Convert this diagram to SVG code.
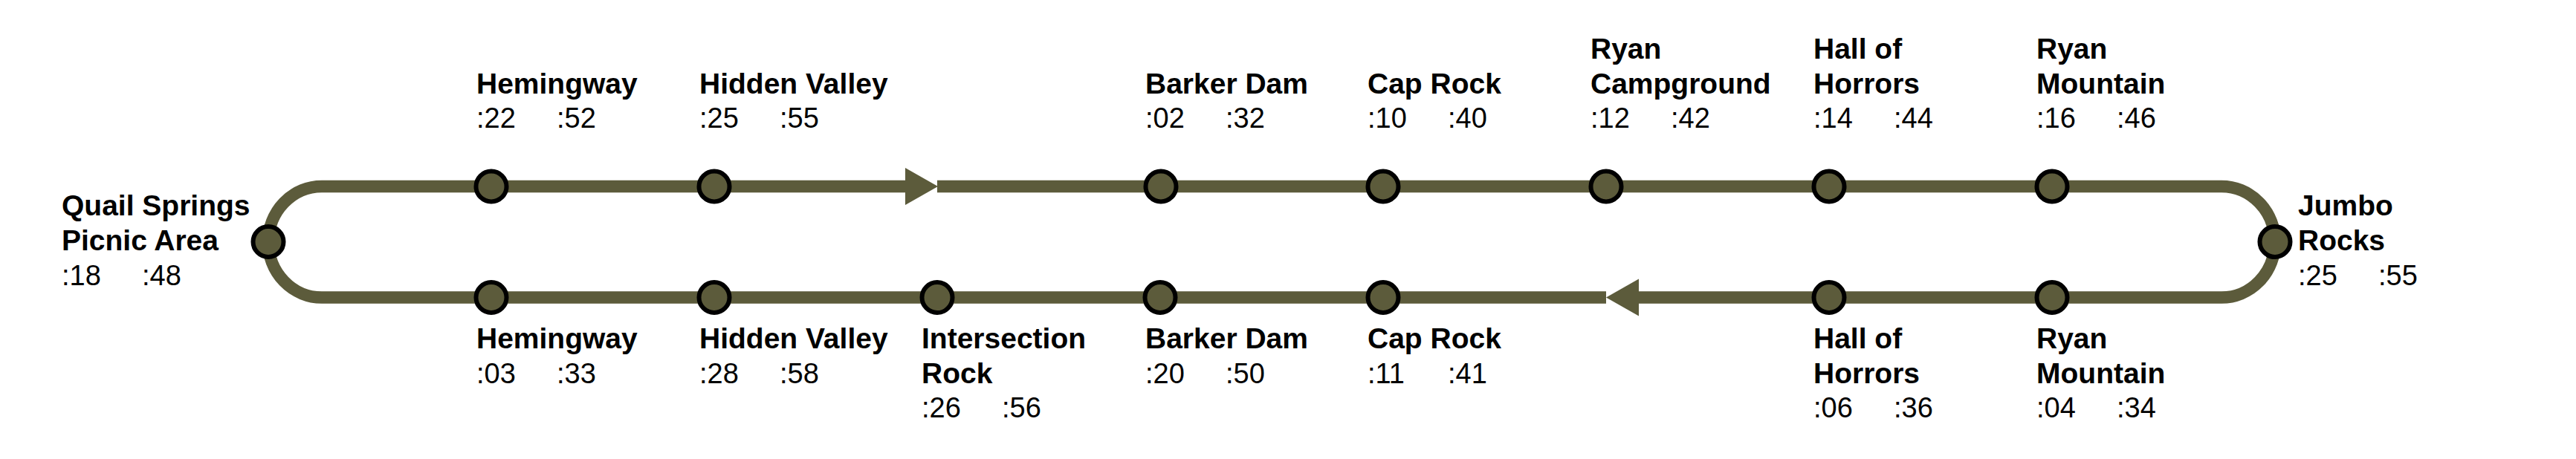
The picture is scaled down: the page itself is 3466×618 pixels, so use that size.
<svg xmlns="http://www.w3.org/2000/svg" width="3466" height="618" viewBox="0 0 3466 618">
<style>
.line{fill:none;stroke:#5c5b3b;stroke-width:16.5}
.arrow{fill:#5c5b3b}
.stop{fill:#5c5b3b;stroke:#000;stroke-width:6}
.name{font-family:"Liberation Sans",Arial,sans-serif;font-weight:bold;font-size:39px;fill:#000}
.time{font-family:"Liberation Sans",Arial,sans-serif;font-size:38px;fill:#000}
</style>
<rect width="3466" height="618" fill="#fff"/>
<g id="connectors">
<path class="line" d="M1220 251 H433 A72 74.75 0 0 0 433 400.5 H2161"/>
<path class="line" d="M1261 251 H2989 A72 74.75 0 0 1 2989 400.5 H2203"/>
<polygon class="arrow" points="1218,226 1262,251 1218,276"/>
<polygon class="arrow" points="2205,375.5 2161,400.5 2205,425.5"/>
</g>
<g id="quail-springs">
<circle class="stop" cx="361" cy="325.5" r="20.5"/>
<text class="name" x="83" y="290">Quail Springs</text>
<text class="name" x="83" y="337">Picnic Area</text>
<text class="time" x="83" y="384">:18</text><text class="time" x="191" y="384">:48</text>
</g>
<g id="jumbo-rocks">
<circle class="stop" cx="3061" cy="325.5" r="20.5"/>
<text class="name" x="3092" y="290">Jumbo</text>
<text class="name" x="3092" y="337">Rocks</text>
<text class="time" x="3092" y="384">:25</text><text class="time" x="3200" y="384">:55</text>
</g>
<g id="top-hemingway">
<circle class="stop" cx="661" cy="251" r="20.5"/>
<text class="name" x="641" y="126">Hemingway</text>
<text class="time" x="641" y="172">:22</text><text class="time" x="749" y="172">:52</text>
</g>
<g id="top-hidden-valley">
<circle class="stop" cx="961" cy="251" r="20.5"/>
<text class="name" x="941" y="126">Hidden Valley</text>
<text class="time" x="941" y="172">:25</text><text class="time" x="1049" y="172">:55</text>
</g>
<g id="top-barker-dam">
<circle class="stop" cx="1562" cy="251" r="20.5"/>
<text class="name" x="1541" y="126">Barker Dam</text>
<text class="time" x="1541" y="172">:02</text><text class="time" x="1649" y="172">:32</text>
</g>
<g id="top-cap-rock">
<circle class="stop" cx="1861" cy="251" r="20.5"/>
<text class="name" x="1840" y="126">Cap Rock</text>
<text class="time" x="1840" y="172">:10</text><text class="time" x="1948" y="172">:40</text>
</g>
<g id="top-ryan-campground">
<circle class="stop" cx="2161" cy="251" r="20.5"/>
<text class="name" x="2140" y="79">Ryan</text>
<text class="name" x="2140" y="126">Campground</text>
<text class="time" x="2140" y="172">:12</text><text class="time" x="2248" y="172">:42</text>
</g>
<g id="top-hall-of-horrors">
<circle class="stop" cx="2461" cy="251" r="20.5"/>
<text class="name" x="2440" y="79">Hall of</text>
<text class="name" x="2440" y="126">Horrors</text>
<text class="time" x="2440" y="172">:14</text><text class="time" x="2548" y="172">:44</text>
</g>
<g id="top-ryan-mountain">
<circle class="stop" cx="2761" cy="251" r="20.5"/>
<text class="name" x="2740" y="79">Ryan</text>
<text class="name" x="2740" y="126">Mountain</text>
<text class="time" x="2740" y="172">:16</text><text class="time" x="2848" y="172">:46</text>
</g>
<g id="bottom-hemingway">
<circle class="stop" cx="661" cy="400.5" r="20.5"/>
<text class="name" x="641" y="469">Hemingway</text>
<text class="time" x="641" y="516">:03</text><text class="time" x="749" y="516">:33</text>
</g>
<g id="bottom-hidden-valley">
<circle class="stop" cx="961" cy="400.5" r="20.5"/>
<text class="name" x="941" y="469">Hidden Valley</text>
<text class="time" x="941" y="516">:28</text><text class="time" x="1049" y="516">:58</text>
</g>
<g id="bottom-intersection-rock">
<circle class="stop" cx="1261" cy="400.5" r="20.5"/>
<text class="name" x="1240" y="469">Intersection</text>
<text class="name" x="1240" y="516">Rock</text>
<text class="time" x="1240" y="562">:26</text><text class="time" x="1348" y="562">:56</text>
</g>
<g id="bottom-barker-dam">
<circle class="stop" cx="1561" cy="400.5" r="20.5"/>
<text class="name" x="1541" y="469">Barker Dam</text>
<text class="time" x="1541" y="516">:20</text><text class="time" x="1649" y="516">:50</text>
</g>
<g id="bottom-cap-rock">
<circle class="stop" cx="1861" cy="400.5" r="20.5"/>
<text class="name" x="1840" y="469">Cap Rock</text>
<text class="time" x="1840" y="516">:11</text><text class="time" x="1948" y="516">:41</text>
</g>
<g id="bottom-hall-of-horrors">
<circle class="stop" cx="2461" cy="400.5" r="20.5"/>
<text class="name" x="2440" y="469">Hall of</text>
<text class="name" x="2440" y="516">Horrors</text>
<text class="time" x="2440" y="562">:06</text><text class="time" x="2548" y="562">:36</text>
</g>
<g id="bottom-ryan-mountain">
<circle class="stop" cx="2761" cy="400.5" r="20.5"/>
<text class="name" x="2740" y="469">Ryan</text>
<text class="name" x="2740" y="516">Mountain</text>
<text class="time" x="2740" y="562">:04</text><text class="time" x="2848" y="562">:34</text>
</g>
</svg>
